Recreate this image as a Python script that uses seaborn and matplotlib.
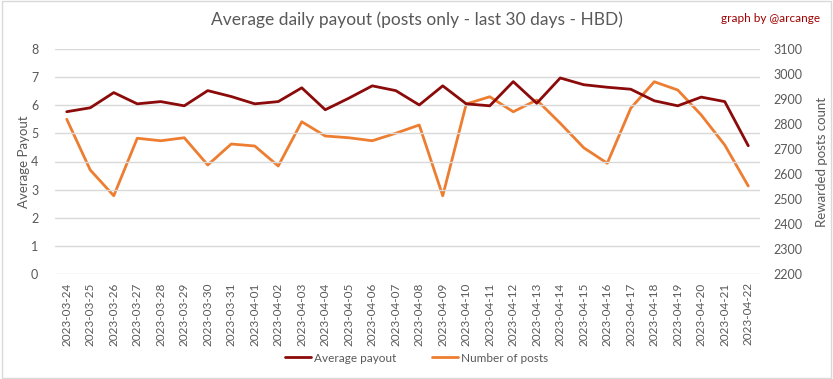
import pandas as pd
import numpy as np
import matplotlib.pyplot as plt
import seaborn as sns
from matplotlib.lines import Line2D

dates = pd.date_range("2023-03-24", "2023-04-22").strftime("%Y-%m-%d").tolist()
avg_payout = [5.77, 5.91, 6.45, 6.05, 6.13, 5.98, 6.52, 6.31, 6.05, 6.13,
              6.62, 5.84, 6.25, 6.69, 6.52, 6.01, 6.69, 6.05, 5.98, 6.84,
              6.07, 6.97, 6.73, 6.64, 6.57, 6.16, 5.98, 6.29, 6.13, 4.56]
num_posts = [2819, 2616, 2513, 2743, 2733, 2745, 2636, 2720, 2712, 2632,
             2809, 2752, 2745, 2733, 2763, 2796, 2513, 2880, 2909, 2849,
             2896, 2803, 2705, 2643, 2863, 2969, 2936, 2836, 2716, 2552]

df = pd.DataFrame({"date": dates, "payout": avg_payout, "posts": num_posts})
df["idx"] = np.arange(len(df))

red = "#8B0A0A"
orange = "#ED7D31"
grey = "#595959"

sns.set_style("white")
plt.rcParams['font.family'] = ['Lato', 'DejaVu Sans']

fig = plt.figure(figsize=(8.33, 3.79), dpi=100)
ax = fig.add_axes([55 / 833, 1 - 274 / 379, 705 / 833, 225 / 379])
ax2 = ax.twinx()

sns.lineplot(data=df, x="idx", y="payout", ax=ax, color=red, linewidth=2)
sns.lineplot(data=df, x="idx", y="posts", ax=ax2, color=orange, linewidth=2)
ax.set_zorder(ax2.get_zorder() + 1)
ax.patch.set_visible(False)

ax.set_xlim(-0.5, len(df) - 0.5)
ax.set_ylim(0, 8)
ax.set_yticks(range(0, 9))
ax2.set_ylim(2200, 3100)
ax2.set_yticks(range(2200, 3101, 100))
ax.set_xticks(df["idx"])
ax.set_xticklabels(dates, rotation=90, fontsize=8.5, color=grey)
ax.grid(axis="y", color="#D9D9D9", linewidth=1)
ax.tick_params(axis="y", labelsize=9, colors=grey, length=0, pad=12)
ax.tick_params(axis="x", length=0, pad=6)
ax2.tick_params(axis="y", labelsize=9, colors=grey, length=0, pad=10)
for a in (ax, ax2):
    for s in a.spines.values():
        s.set_visible(False)
ax.set_xlabel("")
ax.set_ylabel("Average Payout", fontsize=9.5, color=grey)
ax2.set_ylabel("Rewarded posts count", fontsize=9.5, color=grey)
ax.yaxis.set_label_coords(-0.035, 0.5)
ax2.yaxis.set_label_coords(1.08, 0.5)

fig.text(0.5, 1 - 20 / 379, "Average daily payout (posts only - last 30 days - HBD)",
         ha="center", va="center", fontsize=12.5, color=grey)
fig.text(820 / 833, 1 - 18 / 379, "graph by @arcange", ha="right", va="center",
         fontsize=8.5, color="#A00000")

handles = [Line2D([], [], color=red, linewidth=2),
           Line2D([], [], color=orange, linewidth=2)]
fig.legend(handles, ["Average payout", "Number of posts"], loc="center",
           bbox_to_anchor=(0.5, 1 - 358 / 379), ncol=2, frameon=False,
           fontsize=8.5, labelcolor=grey, handlelength=2.2, columnspacing=3,
           handletextpad=0.3)

fig.patches.append(plt.Rectangle((0.002, 0.003), 0.996, 0.994, transform=fig.transFigure,
                                 fill=False, edgecolor="#D9D9D9", linewidth=1))

fig.savefig("out.png", dpi=100)
